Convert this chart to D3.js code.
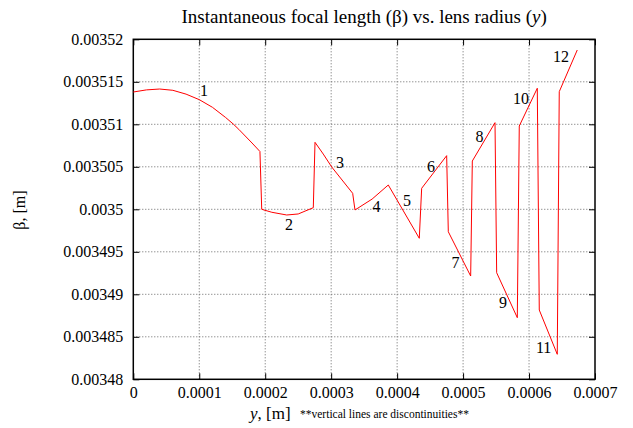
<!DOCTYPE html>
<html>
<head>
<meta charset="utf-8">
<style>
  body { margin: 0; background: white; }
  text { font-family: "Liberation Serif", "Times New Roman", serif; fill: #000; }
</style>
</head>
<body>
<svg id="chart"></svg>
<script src="https://d3js.org/d3.v7.min.js"></script>
<script>

// lens radius y [m] and instantaneous focal length beta [m]
var radius = [0, 0.00002, 0.00004, 0.00006, 0.00008, 0.0001, 0.00012, 0.00014, 0.000152, 0.00016, 0.00018, 0.000192,
  0.0001947, 0.00021, 0.0002326, 0.00025, 0.0002729,
  0.0002755, 0.000288, 0.0003008, 0.0003326,
  0.0003361, 0.000362, 0.0003866,
  0.0004336,
  0.0004372, 0.0004751,
  0.0004776, 0.0005115,
  0.000514, 0.0005484,
  0.0005509, 0.0005822,
  0.0005852, 0.0006125,
  0.0006155, 0.0006428,
  0.0006458, 0.0006731];
var beta = [0.0035138, 0.00351405, 0.00351415, 0.003514, 0.00351355, 0.0035129, 0.003512, 0.0035108, 0.00351, 0.0035094, 0.0035078, 0.0035068,
  0.0035, 0.00349965, 0.00349933, 0.00349945, 0.00350019,
  0.00350788, 0.0035065, 0.00350498, 0.00350188,
  0.00349992, 0.0035012, 0.00350286,
  0.00349659,
  0.00350247, 0.00350631,
  0.00349736, 0.00349215,
  0.00350568, 0.00351019,
  0.00349254, 0.00348725,
  0.0035098, 0.00351424,
  0.00348815, 0.00348294,
  0.00351384, 0.00351874];

// segment numbers and where they sit
var segLabels = ["1", "2", "3", "4", "5", "6", "7", "8", "9", "10", "11", "12"];
var segLabelX = [0.0001011, 0.00023, 0.0003073, 0.0003626, 0.0004089, 0.0004453, 0.0004824, 0.0005188, 0.0005544, 0.0005757, 0.0006105, 0.0006363];
var segLabelY = [0.00351333, 0.00349757, 0.00350486, 0.00349972, 0.00350039, 0.00350442, 0.00349309, 0.00350786, 0.00348839, 0.00351239, 0.00348315, 0.00351733];

var xTicks = [0, 0.0001, 0.0002, 0.0003, 0.0004, 0.0005, 0.0006, 0.0007];
var yTicks = [0.00348, 0.003485, 0.00349, 0.003495, 0.0035, 0.003505, 0.00351, 0.003515, 0.00352];

var width = 633, height = 428;
var margin = {top: 39.3, right: 38, bottom: 48.7, left: 133.3};
var serif = "'Liberation Serif', 'Times New Roman', serif";

var svg = d3.select("#chart")
  .attr("width", width)
  .attr("height", height);

var xScale = d3.scaleLinear()
  .domain([0, 0.0007])
  .range([margin.left, width - margin.right]);

var yScale = d3.scaleLinear()
  .domain([0.00348, 0.00352])
  .range([height - margin.bottom, margin.top]);

function fmt(d) { return String(+d.toFixed(7)); }

// grid
svg.append("g").selectAll("line")
  .data(xTicks.slice(1, -1))
  .enter().append("line")
  .attr("x1", d => xScale(d)).attr("x2", d => xScale(d))
  .attr("y1", yScale.range()[0]).attr("y2", yScale.range()[1])
  .attr("stroke", "#666").attr("stroke-dasharray", "1,2");

svg.append("g").selectAll("line")
  .data(yTicks.slice(1, -1))
  .enter().append("line")
  .attr("y1", d => yScale(d)).attr("y2", d => yScale(d))
  .attr("x1", xScale.range()[0]).attr("x2", xScale.range()[1])
  .attr("stroke", "#666").attr("stroke-dasharray", "1,2");

// axes, ticks point inward and are mirrored
var axB = svg.append("g")
  .attr("transform", "translate(0," + yScale.range()[0] + ")")
  .call(d3.axisBottom(xScale).tickValues(xTicks).tickFormat(fmt).tickSizeInner(-6).tickSizeOuter(0).tickPadding(7));
var axT = svg.append("g")
  .attr("transform", "translate(0," + yScale.range()[1] + ")")
  .call(d3.axisTop(xScale).tickValues(xTicks).tickFormat("").tickSizeInner(-6).tickSizeOuter(0));
var axL = svg.append("g")
  .attr("transform", "translate(" + xScale.range()[0] + ",0)")
  .call(d3.axisLeft(yScale).tickValues(yTicks).tickFormat(fmt).tickSizeInner(-6).tickSizeOuter(0).tickPadding(10));
var axR = svg.append("g")
  .attr("transform", "translate(" + xScale.range()[1] + ",0)")
  .call(d3.axisRight(yScale).tickValues(yTicks).tickFormat("").tickSizeInner(-6).tickSizeOuter(0));

[axB, axT, axL, axR].forEach(function(a) {
  a.attr("font-family", serif).attr("font-size", 16);
  a.select(".domain").remove();
  a.selectAll(".tick line").attr("stroke", "#000");
  a.selectAll(".tick text").attr("fill", "#000");
});

// frame
svg.append("rect")
  .attr("x", xScale.range()[0]).attr("y", yScale.range()[1])
  .attr("width", xScale.range()[1] - xScale.range()[0])
  .attr("height", yScale.range()[0] - yScale.range()[1])
  .attr("fill", "none").attr("stroke", "#000").attr("stroke-width", 1.5);

// the curve
var pts = radius.map((r, i) => [r, beta[i]]);
svg.append("path")
  .datum(pts)
  .attr("fill", "none")
  .attr("stroke", "#ff0000")
  .attr("stroke-width", 1)
  .attr("d", d3.line().x(d => xScale(d[0])).y(d => yScale(d[1])));

// segment labels
svg.append("g").selectAll("text")
  .data(segLabels)
  .enter().append("text")
  .attr("x", (d, i) => xScale(segLabelX[i]))
  .attr("y", (d, i) => yScale(segLabelY[i]))
  .attr("font-family", serif)
  .attr("font-size", 16)
  .text(d => d);

// title
var title = svg.append("text")
  .attr("x", (xScale.range()[0] + xScale.range()[1]) / 2)
  .attr("y", 22.5)
  .attr("text-anchor", "middle")
  .attr("font-family", serif)
  .attr("font-size", 19);
title.append("tspan").text("Instantaneous focal length (β) vs. lens radius (");
title.append("tspan").attr("font-style", "italic").text("y");
title.append("tspan").text(")");

// y axis label
svg.append("text")
  .attr("transform", "translate(25,210) rotate(-90)")
  .attr("text-anchor", "middle")
  .attr("font-family", serif)
  .attr("font-size", 16)
  .text("β, [m]");

// x axis label
var xl = svg.append("text")
  .attr("x", 250)
  .attr("y", 419)
  .attr("font-family", serif)
  .attr("font-size", 17);
xl.append("tspan").attr("font-style", "italic").text("y");
xl.append("tspan").text(", [m]");
svg.append("text")
  .attr("x", 300)
  .attr("y", 418)
  .attr("font-family", serif)
  .attr("font-size", 11.5)
  .text("**vertical lines are discontinuities**");

</script>
</body>
</html>
